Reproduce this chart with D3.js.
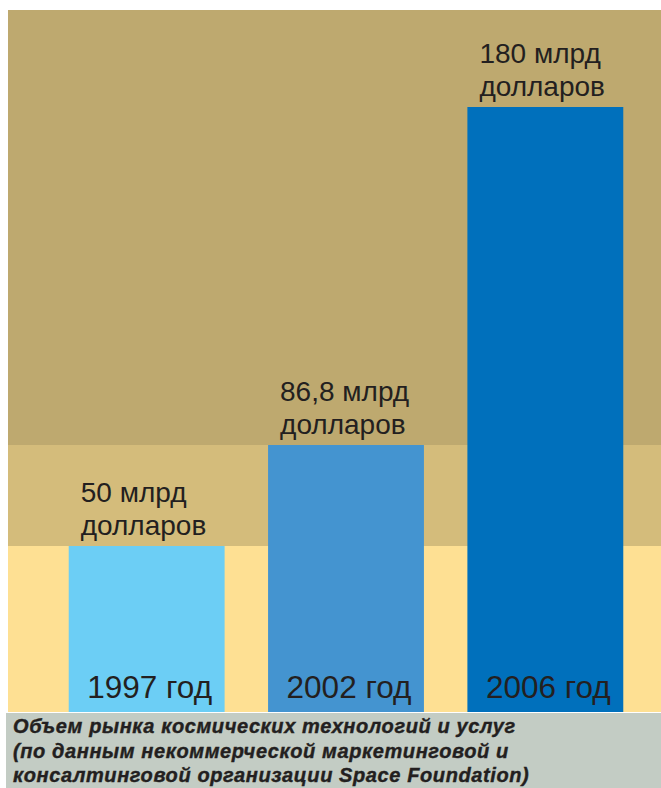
<!DOCTYPE html>
<html>
<head>
<meta charset="utf-8">
<script src="https://cdn.jsdelivr.net/npm/d3@7"></script>
<style>
  html, body { margin: 0; padding: 0; background: #fff; }
  svg { display: block; }
</style>
</head>
<body>
<div id="chart"></div>
<script>
// data
const years = ['1997', '2002', '2006']
const values = [50, 86.8, 180]
const valueLabels = ['50 млрд', '86,8 млрд', '180 млрд']
const unitLabel = 'долларов'
const yearSuffix = ' год'
const barColors = ['#6ccef5', '#4494d0', '#0070bc']
const stripeColors = ['#bea96f', '#d4bc7b', '#fee093']
const captionLines = [
  'Объем рынка космических технологий и услуг',
  '(по данным некоммерческой маркетинговой и',
  'консалтинговой организации Space Foundation)'
]

const W = 661, H = 788
const plotTop = 10, plotBottom = 712, plotLeft = 8

const svg = d3.select('#chart').append('svg')
  .attr('width', W)
  .attr('height', H)

// x: one band per year
const x = d3.scaleBand()
  .domain(years)
  .range([47, 645])
  .paddingInner(0.218)
  .paddingOuter(0.109)

// y: the infographic is not drawn to a single linear scale, so use a piecewise one
const y = d3.scaleLinear()
  .domain([0, 50, 86.8, 180])
  .range([plotBottom, 546, 445, 107])

// background stripes: each boundary sits at the top of a lower bar
const sorted = values.slice().sort((a, b) => b - a)
const bounds = [plotTop].concat(sorted.slice(1).map(v => y(v)), [plotBottom])
svg.append('g').selectAll('rect')
  .data(stripeColors)
  .join('rect')
  .attr('x', plotLeft)
  .attr('y', (d, i) => bounds[i])
  .attr('width', W - plotLeft)
  .attr('height', (d, i) => bounds[i + 1] - bounds[i])
  .attr('fill', d => d)

// bars
svg.append('g').selectAll('rect')
  .data(values)
  .join('rect')
  .attr('x', (d, i) => x(years[i]))
  .attr('y', d => y(d))
  .attr('width', x.bandwidth())
  .attr('height', d => plotBottom - y(d))
  .attr('fill', (d, i) => barColors[i])

// value labels above the bars
const lbl = svg.append('g')
  .attr('font-family', '"Liberation Sans", Arial, sans-serif')
  .attr('font-size', 28)
  .attr('fill', '#231f20')
lbl.selectAll('text.v')
  .data(values)
  .join('text')
  .attr('class', 'v')
  .attr('x', (d, i) => x(years[i]) + 12)
  .attr('y', d => y(d) - 44)
  .text((d, i) => valueLabels[i])
lbl.selectAll('text.u')
  .data(values)
  .join('text')
  .attr('class', 'u')
  .attr('x', (d, i) => x(years[i]) + 12)
  .attr('y', d => y(d) - 11)
  .text(unitLabel)

// year labels inside the bars
svg.append('g')
  .attr('font-family', '"Liberation Sans", Arial, sans-serif')
  .attr('font-size', 31.5)
  .attr('fill', '#231f20')
  .attr('text-anchor', 'middle')
  .selectAll('text')
  .data(years)
  .join('text')
  .attr('x', d => x(d) + x.bandwidth() / 2 + 3)
  .attr('y', plotBottom - 14)
  .text(d => d + yearSuffix)

// caption block
svg.append('rect')
  .attr('x', 6)
  .attr('y', plotBottom + 1)
  .attr('width', W - 6)
  .attr('height', H - plotBottom - 1)
  .attr('fill', '#c3ccc4')

svg.append('g')
  .attr('font-family', '"Liberation Sans", Arial, sans-serif')
  .attr('font-size', 20)
  .attr('font-weight', 'bold')
  .attr('font-style', 'italic')
  .attr('letter-spacing', 0.6)
  .attr('fill', '#231f20')
  .attr('stroke', '#231f20')
  .attr('stroke-width', 0.4)
  .selectAll('text')
  .data(captionLines)
  .join('text')
  .attr('x', 13)
  .attr('y', (d, i) => 733 + i * 24.5)
  .text(d => d)
</script>
</body>
</html>
